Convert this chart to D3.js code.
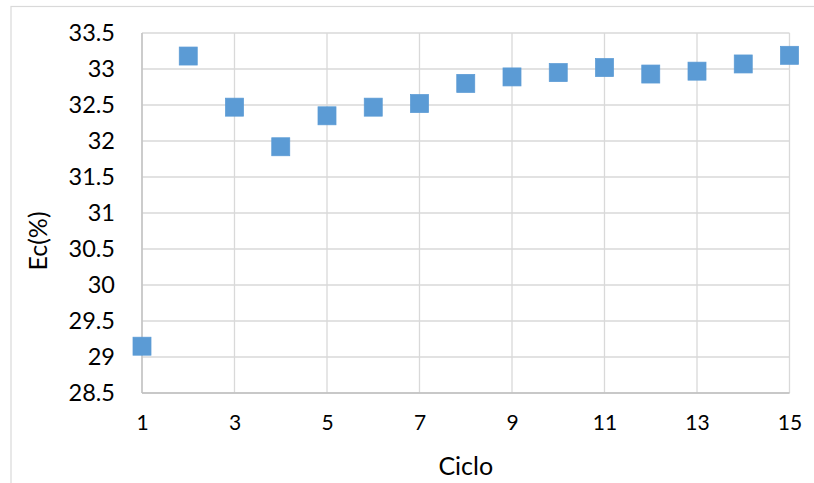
<!DOCTYPE html>
<html><head><meta charset="utf-8">
<script src="https://cdn.jsdelivr.net/npm/d3@7"></script>
<style>body{margin:0;background:#fff}svg{display:block}text{font-family:Lato,"Open Sans",sans-serif;fill:#000}</style>
</head><body><svg id="c" width="814" height="483"></svg>
<script>
const ciclo = [1,2,3,4,5,6,7,8,9,10,11,12,13,14,15];
const ec = [29.15,33.18,32.47,31.92,32.35,32.47,32.52,32.80,32.89,32.95,33.02,32.93,32.97,33.07,33.19];
const xTicks = [1,3,5,7,9,11,13,15];
const yTicks = [28.5,29,29.5,30,30.5,31,31.5,32,32.5,33,33.5];
const xTitle = "Ciclo", yTitle = "Ec(%)";

const svg = d3.select("#c");
const L=142, R=789.5, T=33, B=393;
const x = d3.scaleLinear().domain([1,15]).range([L,R]);
const y = d3.scaleLinear().domain([28.5,33.5]).range([B,T]);

svg.append("rect").attr("x",11).attr("y",6.5).attr("width",814).attr("height",500)
  .attr("fill","none").attr("stroke","#d9d9d9").attr("stroke-width",1.2);

const g = svg.append("g");
g.selectAll(".hy").data(yTicks).join("line")
  .attr("x1",L).attr("x2",R).attr("y1",d=>y(d)).attr("y2",d=>y(d))
  .attr("stroke","#d9d9d9").attr("stroke-width",1.3);
g.selectAll(".vx").data(xTicks).join("line")
  .attr("x1",d=>x(d)).attr("x2",d=>x(d)).attr("y1",T).attr("y2",B)
  .attr("stroke","#d9d9d9").attr("stroke-width",1.3);

svg.append("line").attr("x1",L).attr("x2",L).attr("y1",T).attr("y2",B).attr("stroke","#bfbfbf").attr("stroke-width",1.3);
svg.append("line").attr("x1",L).attr("x2",R).attr("y1",B).attr("y2",B).attr("stroke","#bfbfbf").attr("stroke-width",1.3);

const ya = svg.append("g").attr("transform",`translate(${L},0)`)
  .call(d3.axisLeft(y).tickValues(yTicks).tickSize(0).tickPadding(27).tickFormat(d=>String(d)));
ya.select(".domain").remove();
ya.selectAll("text").attr("font-size",23.5).attr("font-family","Lato").attr("fill","#000");

const xa = svg.append("g").attr("transform",`translate(0,${B})`)
  .call(d3.axisBottom(x).tickValues(xTicks).tickSize(0).tickPadding(22).tickFormat(d=>String(d)));
xa.select(".domain").remove();
xa.selectAll("text").attr("font-size",21).attr("font-family","Lato").attr("fill","#000");

svg.append("text").attr("x",(L+R)/2).attr("y",475).attr("text-anchor","middle")
  .attr("font-size",25).text(xTitle);
svg.append("text").attr("transform","translate(47,241) rotate(-90)").attr("text-anchor","middle")
  .attr("font-size",25).text(yTitle);

const s = 18;
svg.append("g").selectAll("rect").data(ciclo).join("rect")
  .attr("x",(d)=>x(d)-s/2).attr("y",(d,i)=>y(ec[i])-s/2)
  .attr("width",s).attr("height",s).attr("fill","#5b9bd5")
  .attr("stroke","#5b9bd5").attr("stroke-width",0.75);
</script></body></html>
